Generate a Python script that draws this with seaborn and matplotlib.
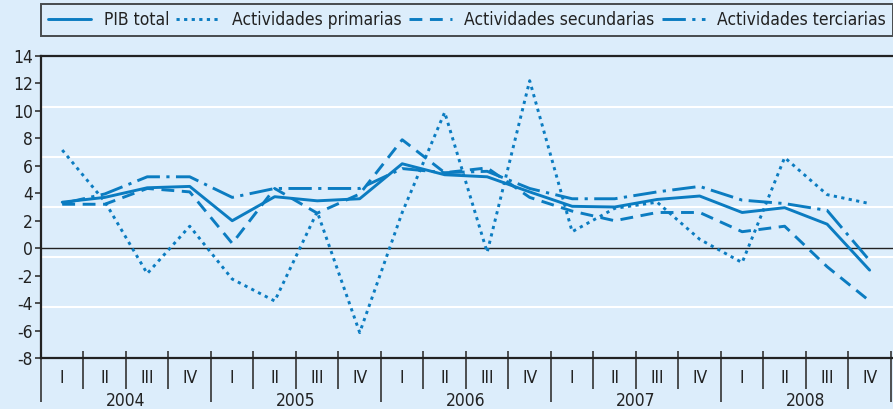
import matplotlib
matplotlib.use('Agg')
import matplotlib.pyplot as plt
from matplotlib.lines import Line2D
import seaborn as sns
import pandas as pd

# quarterly growth (%), 2004-2008
years = ['2004', '2005', '2006', '2007', '2008']
quarters = ['I', 'II', 'III', 'IV']

pib_total = [3.35, 3.7, 4.4, 4.5, 2.0, 3.75, 3.45, 3.6, 6.15, 5.35, 5.2, 4.1,
             3.05, 3.0, 3.55, 3.8, 2.6, 2.95, 1.75, -1.6]
primarias = [7.15, 3.4, -1.85, 1.6, -2.25, -3.85, 2.65, -6.15, 2.6, 9.9, -0.3, 12.2,
             1.2, 2.9, 3.35, 0.65, -1.05, 6.6, 3.9, 3.25]
secundarias = [3.2, 3.2, 4.35, 4.1, 0.35, 4.35, 2.55, 3.95, 7.9, 5.5, 5.85, 3.7,
               2.7, 2.0, 2.6, 2.6, 1.2, 1.6, -1.35, -3.85]
terciarias = [3.25, 3.95, 5.2, 5.2, 3.7, 4.35, 4.35, 4.35, 5.8, 5.5, 5.6, 4.35,
              3.6, 3.6, 4.1, 4.5, 3.5, 3.25, 2.75, -0.9]

series_names = ['PIB total', 'Actividades primarias', 'Actividades secundarias',
                'Actividades terciarias']
grid_levels = [10.3, 6.67, 3.03, -0.63, -4.32]

bg = '#dcedfb'
blue = '#0b7cc1'
ink = '#222222'
lw = 2.1
dashes = {
    'PIB total': '',
    'Actividades primarias': (1.1, 1.5),
    'Actividades secundarias': (4.4, 2.6),
    'Actividades terciarias': (8.0, 2.2, 1.1, 2.2),
}

labels_q = [q for y in years for q in quarters]
rows = []
for name, vals in zip(series_names, [pib_total, primarias, secundarias, terciarias]):
    for i, v in enumerate(vals):
        rows.append({'pos': i, 'serie': name, 'valor': v})
df = pd.DataFrame(rows)

sns.set_theme(style='white')
plt.rcParams['font.family'] = ['DejaVu Sans']
plt.rcParams['font.stretch'] = 'condensed'

fig, ax = plt.subplots(figsize=(8.93, 4.09), dpi=100)
fig.patch.set_facecolor(bg)
ax.set_facecolor(bg)
fig.subplots_adjust(left=41/893, right=1.0, top=1-56/409, bottom=1-358/409)

for g in grid_levels:
    ax.axhline(g, color='white', lw=1.5, zorder=0)
ax.axhline(0, color=ink, lw=1.0, zorder=1)

sns.lineplot(data=df, x='pos', y='valor', style='serie', dashes=dashes,
             color=blue, lw=lw, ax=ax, legend=False, zorder=3)

ax.set_xlim(-0.5, 19.55)
ax.set_ylim(-8, 14)
ax.set_yticks(range(-8, 15, 2))
ax.set_yticklabels([str(v) for v in range(-8, 15, 2)], fontsize=12.5, color=ink)
ax.set_xlabel('')
ax.set_ylabel('')

bounds = [i - 0.5 for i in range(21)]
ax.set_xticks([b for b in bounds if (b + 0.5) % 4 == 0])
ax.set_xticks([b for b in bounds if (b + 0.5) % 4 != 0], minor=True)
ax.set_xticklabels([])
ax.tick_params(axis='x', which='major', direction='out', length=32, width=1.2,
               color='#333333', bottom=True)
ax.tick_params(axis='x', which='minor', direction='out', length=22, width=1.2,
               color='#333333', bottom=True)
ax.tick_params(axis='y', direction='out', length=4, width=1.2, color='#333333',
               left=True, pad=2)
ax.vlines(bounds, 0, 7/302, transform=ax.get_xaxis_transform(), color='#333333',
          lw=1.2, clip_on=False)

trans = ax.get_xaxis_transform()
for i, q in enumerate(labels_q):
    ax.text(i, -0.066, q, transform=trans, ha='center', va='center',
            fontsize=12.5, color=ink)
for k, y in enumerate(years):
    ax.text(4*k + 1.5, -0.142, y, transform=trans, ha='center', va='center',
            fontsize=12.5, color=ink)

for side in ['top', 'left', 'bottom']:
    ax.spines[side].set_color(ink)
    ax.spines[side].set_linewidth(1.6)
ax.spines['right'].set_visible(False)

handles = [Line2D([0], [0], color=blue, lw=lw)]
handles += [Line2D([0], [0], color=blue, lw=lw, dashes=dashes[n]) for n in series_names[1:]]
leg = ax.legend(handles, series_names, loc='lower left',
                bbox_to_anchor=(0, 1 + 20/302, 1.0, 29/302), mode='expand', ncol=4,
                frameon=True, edgecolor=ink, facecolor=bg, fancybox=False,
                fontsize=12.5, handlelength=2.5, borderaxespad=0, handletextpad=0.7)
leg.get_frame().set_linewidth(1.4)
for t in leg.get_texts():
    t.set_color(ink)

fig.savefig('out.png', dpi=100, facecolor=bg)
